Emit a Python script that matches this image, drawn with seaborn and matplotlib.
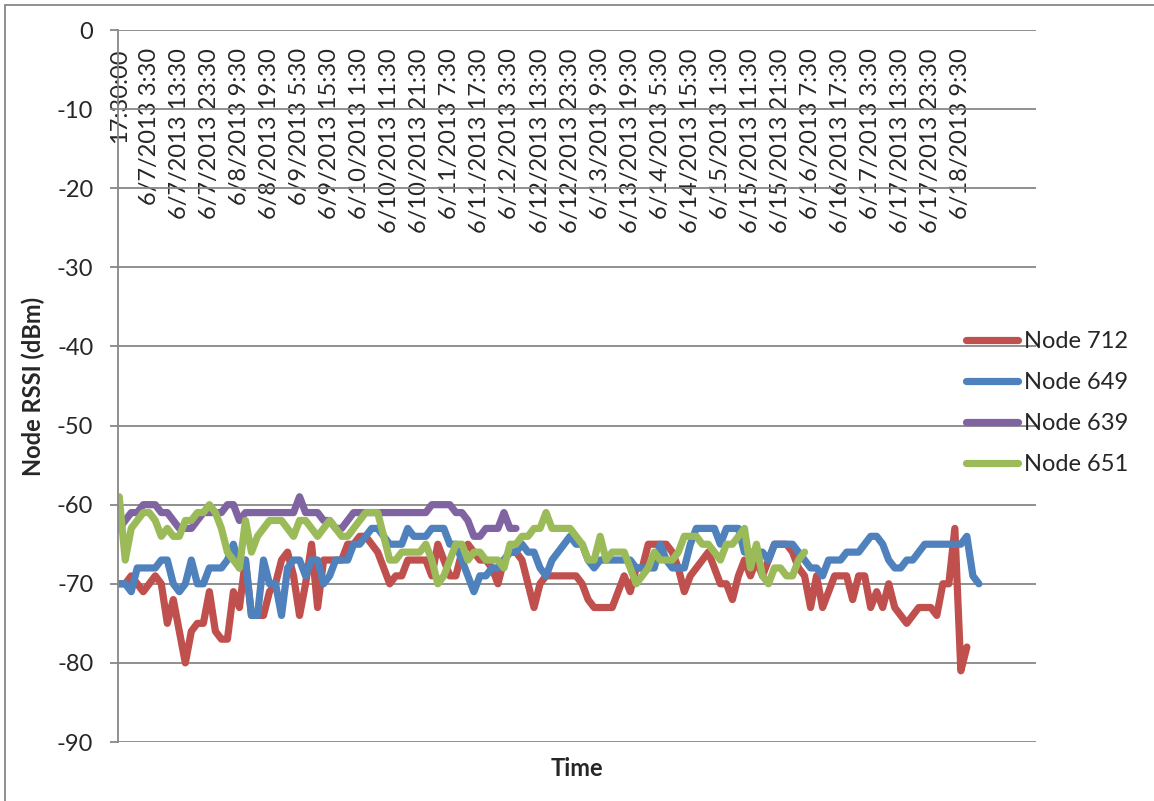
import matplotlib
matplotlib.use('Agg')
import matplotlib.pyplot as plt
from matplotlib.patches import Rectangle
import seaborn as sns
import pandas as pd

start = pd.Timestamp('2013-06-06 17:30')

# RSSI readings (dBm), one every 2 hours from the start
node712 = [-70, -70, -69, -70, -71, -70, -69, -70, -75, -72, -76, -80, -76, -75, -75, -71, -76, -77, -77, -71,
           -73, -67, -74, -74, -74, -71, -70, -67, -66, -69, -74, -70, -65, -73, -67, -67, -67, -67, -65, -65,
           -64, -64, -65, -66, -68, -70, -69, -69, -67,
           -67, -67, -67, -69, -65, -67, -69, -69, -66, -65, -66, -67, -67, -68, -70, -67, -66, -66, -67, -70,
           -73, -70, -69, -69, -69, -69, -69, -69, -70, -72, -73, -73, -73, -73, -71, -69, -71, -68, -68, -65,
           -65, -65, -65, -66, -68, -71, -69, -68,
           -67, -66, -68, -70, -70, -72, -69, -67, -69, -67, -69, -67, -65, -65, -65, -66, -68, -69, -73, -69,
           -73, -71, -69, -69, -69, -72, -69, -69, -73, -71, -73, -70, -73, -74, -75, -74, -73, -73, -73, -74,
           -70, -70, -63, -81, -78]
node649 = [-70, -70, -71, -68, -68, -68, -68, -67, -67, -70, -71, -70, -67, -70, -70, -68, -68, -68, -67, -65,
           -68, -67, -74, -74, -67, -70, -70, -74, -68, -67, -67, -69, -67, -67, -70, -69, -67, -67, -67, -65,
           -65, -64, -63, -63, -64, -65, -65, -65, -63,
           -64, -64, -64, -63, -63, -63, -65, -65, -67, -69, -71, -69, -69, -68, -68, -67, -66, -66, -65, -66,
           -66, -68, -69, -67, -66, -65, -64, -65, -65, -67, -68, -67, -67, -67, -67, -67, -67, -68, -68, -68,
           -68, -65, -67, -68, -68, -68, -65, -63,
           -63, -63, -63, -65, -63, -63, -63, -66, -66, -66, -66, -67, -65, -65, -65, -65, -66, -67, -68, -68,
           -69, -67, -67, -67, -66, -66, -66, -65, -64, -64, -65, -67, -68, -68, -67, -67, -66, -65, -65, -65,
           -65, -65, -65, -65, -64, -69, -70]
node639 = [-63, -62, -61, -61, -60, -60, -60, -61, -61, -62, -63, -63, -63, -62, -61, -61, -61, -61, -60, -60,
           -62, -61, -61, -61, -61, -61, -61, -61, -61, -61, -59, -61, -61, -61, -62, -62, -63, -63, -62, -61,
           -61, -61, -61, -61, -61, -61, -61, -61, -61,
           -61, -61, -61, -60, -60, -60, -60, -61, -61, -62, -64, -64, -63, -63, -63, -61, -63, -63]
node651 = [-59, -67, -63, -62, -61, -61, -62, -64, -63, -64, -64, -62, -62, -61, -61, -60, -61, -63, -66, -67,
           -68, -62, -66, -64, -63, -62, -62, -62, -63, -64, -62, -62, -63, -64, -63, -62, -63, -64, -64, -63,
           -62, -61, -61, -61, -64, -67, -67, -66, -66,
           -66, -66, -65, -67, -70, -69, -67, -65, -65, -67, -66, -66, -67, -67, -67, -68, -65, -65, -64, -64,
           -63, -63, -61, -63, -63, -63, -63, -64, -65, -67, -67, -64, -67, -66, -66, -66, -68, -70, -69, -68,
           -66, -67, -67, -67, -66, -64, -64, -64,
           -65, -65, -66, -67, -65, -65, -64, -63, -68, -65, -69, -70, -68, -68, -69, -69, -67, -66]

tick_labels = ['17:30:00', '6/7/2013 3:30', '6/7/2013 13:30', '6/7/2013 23:30', '6/8/2013 9:30',
               '6/8/2013 19:30', '6/9/2013 5:30', '6/9/2013 15:30', '6/10/2013 1:30', '6/10/2013 11:30',
               '6/10/2013 21:30', '6/11/2013 7:30', '6/11/2013 17:30', '6/12/2013 3:30', '6/12/2013 13:30',
               '6/12/2013 23:30', '6/13/2013 9:30', '6/13/2013 19:30', '6/14/2013 5:30', '6/14/2013 15:30',
               '6/15/2013 1:30', '6/15/2013 11:30', '6/15/2013 21:30', '6/16/2013 7:30', '6/16/2013 17:30',
               '6/17/2013 3:30', '6/17/2013 13:30', '6/17/2013 23:30', '6/18/2013 9:30']

series = {'Node 712': node712, 'Node 649': node649, 'Node 639': node639, 'Node 651': node651}
colors = {'Node 712': '#C0504D', 'Node 649': '#4F81BD', 'Node 639': '#8064A2', 'Node 651': '#9BBB59'}

frames = []
for name, vals in series.items():
    frames.append(pd.DataFrame({'Time': pd.date_range(start, periods=len(vals), freq='2h'),
                                'RSSI': vals, 'Node': name}))
df = pd.concat(frames, ignore_index=True)

sns.set_style('white')
plt.rcParams['font.family'] = ['Lato', 'DejaVu Sans']
plt.rcParams['axes.unicode_minus'] = False

grid_col = '#878787'
line_w = 5.2
fig = plt.figure(figsize=(11.54, 8.01), dpi=100)
ax = fig.add_axes([118 / 1154, 59 / 801, 918 / 1154, 712 / 801])

sns.lineplot(data=df, x='Time', y='RSSI', hue='Node', hue_order=list(series),
             palette=colors, linewidth=line_w, estimator=None, ax=ax)
for ln in ax.lines:
    ln.set_linewidth(line_w)
    ln.set_solid_joinstyle('round')
    ln.set_solid_capstyle('round')

# y axis
ax.set_ylim(-90, 0)
ax.set_yticks(range(-90, 1, 10))
ax.grid(axis='y', color=grid_col, lw=1.3)
ax.grid(axis='x', visible=False)
ax.set_axisbelow(True)
for s in ['top', 'right', 'bottom']:
    ax.spines[s].set_visible(False)
ax.spines['left'].set_color(grid_col)
ax.spines['left'].set_linewidth(1.3)
ax.tick_params(axis='y', left=True, length=5.8, width=1.3, color=grid_col, pad=12, labelsize=17)

# category labels hang down from the top line
xt = pd.date_range(start, periods=len(tick_labels), freq='10h')
ax.set_xticks(xt)
ax.set_xticklabels(tick_labels)
ax.tick_params(axis='x', bottom=False, labelbottom=False, top=False, labeltop=True,
               length=0, pad=-13, labelsize=17, labelrotation=90)
for t in ax.get_xticklabels():
    t.set_va('top')
ax.set_xlim(start - pd.Timedelta(hours=0.4), start + pd.Timedelta(hours=305))

ax.set_xlabel('Time', fontsize=17, fontweight='bold')
ax.xaxis.set_label_coords(0.5, -0.021)
ax.set_ylabel('Node RSSI (dBm)', fontsize=17, fontweight='bold')
ax.yaxis.set_label_coords(-0.0795, 0.5)

# legend
old = ax.get_legend()
handles = old.legend_handles
labels = [t.get_text() for t in old.get_texts()]
old.remove()
for h in handles:
    h.set_linewidth(line_w)
    h.set_solid_capstyle('round')
ax.legend(handles, labels, loc='center left', bbox_to_anchor=(966 / 1154, 1 - 403 / 801),
          bbox_transform=fig.transFigure, frameon=False, fontsize=17, handlelength=2.2,
          handletextpad=0.25, labelspacing=0.85, borderpad=0, borderaxespad=0)

fig.add_artist(Rectangle((5 / 1154, -0.1), 1.2, 1.1 - 5 / 801, transform=fig.transFigure,
                         fill=False, ec=grid_col, lw=1.3))

fig.savefig('out.png', dpi=100)
